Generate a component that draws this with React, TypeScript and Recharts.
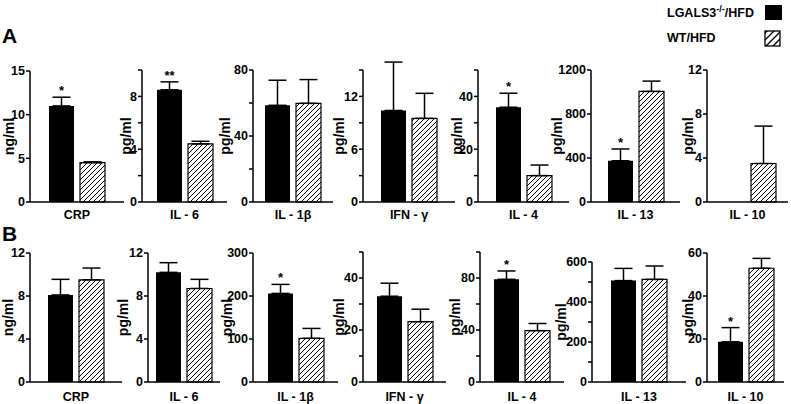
import React from "react";
import { BarChart, Bar, XAxis, YAxis, ErrorBar, LabelList } from "recharts";

// cytokine panels, left to right
const cytokines = ["CRP", "IL - 6", "IL - 1β", "IFN - γ", "IL - 4", "IL - 13", "IL - 10"];
const units = ["ng/ml", "pg/ml", "pg/ml", "pg/ml", "pg/ml", "pg/ml", "pg/ml"];
const legendKo = ["LGALS3", "-/-", "/HFD"];
const legendWt = "WT/HFD";

// panel A
const koA = [11.0, 8.5, 58.6, 10.4, 35.9, 375, 0];
const koErrA = [1.0, 0.6, 15.2, 5.5, 5.3, 107, 0];
const wtA = [4.5, 4.4, 59.8, 9.5, 10.0, 1005, 3.5];
const wtErrA = [0.1, 0.2, 14.4, 2.85, 4.0, 94, 3.4];
const starsA = ["*", "**", "", "", "*", "*", ""];
const maxA = [15, 10, 80, 15, 50, 1200, 12];
const majorA = [[0, 5, 10, 15], [0, 4, 8], [0, 40, 80], [0, 6, 12], [0, 20, 40], [0, 400, 800, 1200], [0, 4, 8, 12]];
const minorA = [[], [2, 6, 10], [20, 60], [3, 9, 15], [10, 30, 50], [], []];

// panel B
const koB = [8.1, 10.2, 206, 33, 79, 507, 18.7];
const koErrB = [1.45, 0.9, 21, 5, 6.4, 61, 6.6];
const wtB = [9.5, 8.7, 101.6, 23.2, 39.5, 513, 52.9];
const wtErrB = [1.1, 0.85, 23, 4.8, 5.5, 67, 4.6];
const starsB = ["", "", "*", "", "*", "", "*"];
const maxB = [12, 12, 300, 50, 100, 600, 60];
const majorB = [[0, 4, 8, 12], [0, 4, 8, 12], [0, 100, 200, 300], [0, 20, 40], [0, 40, 80], [0, 200, 400, 600], [0, 20, 40, 60]];
const minorB = [[], [], [], [10, 30, 50], [20, 60, 100], [100, 300, 500], []];

// layout of the small charts (pixels)
const layoutA = {
  chartTop: 40, bottom: 202, tickMargin: 8,
  plotTop: [71, 70, 70, 70, 70, 70, 70],
  axisX: [30, 142, 253, 363, 478, 591, 707],
  axisEnd: [124, 227, 333, 455, 569, 680, 788],
  labelDist: [21, 16, 28, 24, 21, 34, 19],
};
const layoutB = {
  chartTop: 226, bottom: 382, tickMargin: 10,
  plotTop: [253, 253, 253, 252, 252, 262, 253],
  axisX: [30, 148, 253, 363, 480, 592, 707],
  axisEnd: [122, 220, 338, 446, 564, 686, 784],
  labelDist: [22, 25, 26, 24, 25, 31, 19],
};

const FONT = "'Liberation Sans', Arial, Helvetica, sans-serif";
const YW = 50;
const XH = 24;
const textStyle = { fill: "#000", fontSize: 12.5, fontWeight: "bold" as const, fontFamily: FONT };
const axisStyle = { stroke: "#000", strokeWidth: 1.5 };

function Panel({ id, i, row, ko, koErr, wt, wtErr, stars, max, major, minor }: any) {
  const data = [{ name: cytokines[i], ko: ko[i], wt: wt[i], koErr: [0, koErr[i]], wtErr: [0, wtErr[i]], star: stars[i] }];
  const axisX = row.axisX[i];
  const width = YW + (row.axisEnd[i] - axisX) + 4;
  const height = row.bottom - row.chartTop + XH;
  const ticks = [...major[i], ...minor[i]].sort((a: number, b: number) => a - b);

  const yLabel = (p: any) => {
    const vb = p.viewBox;
    const x = vb.x + vb.width - row.labelDist[i];
    const y = vb.y + vb.height / 2;
    return (
      <text x={x} y={y} transform={`rotate(-90 ${x} ${y})`} textAnchor="middle" dominantBaseline="central" {...textStyle} fontSize={14}>
        {units[i]}
      </text>
    );
  };

  const star = (p: any) => {
    if (!p.value) return null;
    const vb = p.viewBox ?? p;
    const ppu = vb.height / ko[i];
    const top = vb.y - koErr[i] * ppu;
    return (
      <text x={vb.x + vb.width / 2} y={top - 2} textAnchor="middle" {...textStyle} fontSize={13}>
        {p.value}
      </text>
    );
  };

  return (
    <div style={{ position: "absolute", left: axisX - YW, top: row.chartTop }}>
      <BarChart
        width={width}
        height={height}
        data={data}
        margin={{ top: row.plotTop[i] - row.chartTop, right: 4, bottom: 0, left: 0 }}
        barGap={6}
        barSize={25}
      >
        <defs>
          <pattern id={`hatch-${id}`} patternUnits="userSpaceOnUse" width={5} height={5}>
            <rect width={5} height={5} fill="#fff" />
            <path d="M-1,1 L1,-1 M0,5 L5,0 M4,6 L6,4" stroke="#000" strokeWidth={1} />
          </pattern>
        </defs>
        <XAxis
          dataKey="name"
          height={XH}
          interval={0}
          tickLine={false}
          tickSize={0}
          tickMargin={row.tickMargin}
          axisLine={axisStyle}
          tick={textStyle}
        />
        <YAxis
          width={YW}
          domain={[0, max[i]]}
          allowDataOverflow
          ticks={ticks}
          interval={0}
          tickFormatter={(v: number) => (major[i].includes(v) ? String(v) : "")}
          tickSize={4}
          tickMargin={1}
          axisLine={axisStyle}
          tickLine={axisStyle}
          tick={textStyle}
          label={yLabel}
        />
        <Bar dataKey="ko" fill="#000" isAnimationActive={false}>
          <ErrorBar dataKey="koErr" direction="y" width={9} stroke="#000" strokeWidth={1.5} isAnimationActive={false} />
          <LabelList dataKey="star" content={star} />
        </Bar>
        <Bar dataKey="wt" fill={`url(#hatch-${id})`} stroke="#000" strokeWidth={1.2} isAnimationActive={false}>
          <ErrorBar dataKey="wtErr" direction="y" width={9} stroke="#000" strokeWidth={1.5} isAnimationActive={false} />
        </Bar>
      </BarChart>
    </div>
  );
}

export default function App() {
  return (
    <div style={{ position: "absolute", left: 0, top: 0, width: 791, height: 404, background: "#fff", fontFamily: FONT }}>
      <style>{`.recharts-wrapper [clip-path]{clip-path:none !important}`}</style>
      {cytokines.map((_, i) => (
        <Panel key={`a${i}`} id={`a${i}`} i={i} row={layoutA} ko={koA} koErr={koErrA} wt={wtA} wtErr={wtErrA}
          stars={starsA} max={maxA} major={majorA} minor={minorA} />
      ))}
      {cytokines.map((_, i) => (
        <Panel key={`b${i}`} id={`b${i}`} i={i} row={layoutB} ko={koB} koErr={koErrB} wt={wtB} wtErr={wtErrB}
          stars={starsB} max={maxB} major={majorB} minor={minorB} />
      ))}
      <svg width={791} height={404} style={{ position: "absolute", left: 0, top: 0, pointerEvents: "none" }}>
        <defs>
          <pattern id="hatch-legend" patternUnits="userSpaceOnUse" width={7} height={7}>
            <rect width={7} height={7} fill="#fff" />
            <path d="M-1,1 L1,-1 M0,7 L7,0 M6,8 L8,6" stroke="#000" strokeWidth={1.3} />
          </pattern>
        </defs>
        <text x={2} y={43} fontSize={21} fontWeight="bold" fontFamily={FONT}>A</text>
        <text x={2} y={241} fontSize={21} fontWeight="bold" fontFamily={FONT}>B</text>
        <text x={667} y={17} fontSize={12.5} fontWeight="bold" fontFamily={FONT}>
          {legendKo[0]}
          <tspan dy={-5} fontSize={9}>{legendKo[1]}</tspan>
          <tspan dy={5}>{legendKo[2]}</tspan>
        </text>
        <rect x={765} y={5} width={17} height={15} fill="#000" />
        <text x={667} y={42} fontSize={12.5} fontWeight="bold" fontFamily={FONT}>{legendWt}</text>
        <rect x={765} y={31} width={15} height={15} fill="url(#hatch-legend)" stroke="#000" strokeWidth={1.3} />
      </svg>
    </div>
  );
}
